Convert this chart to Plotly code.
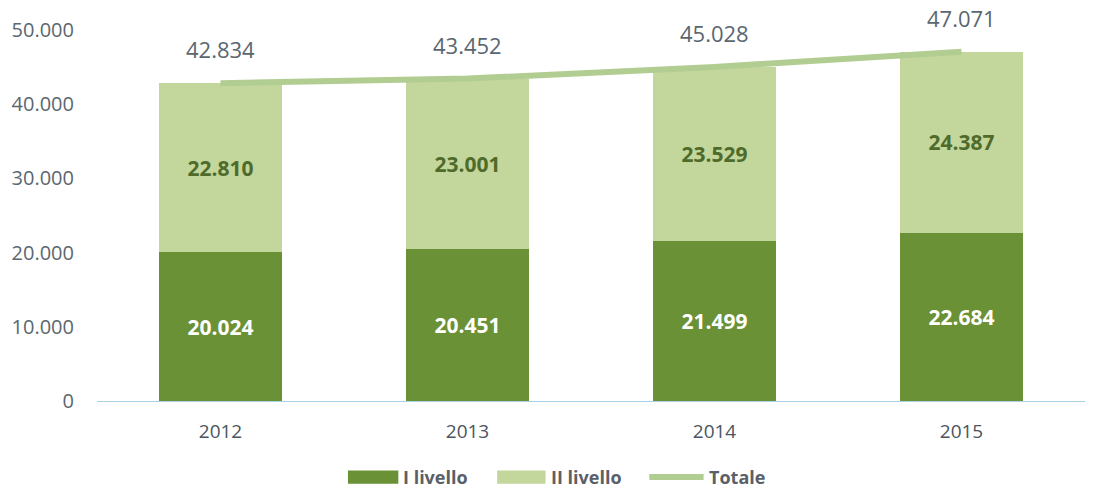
import plotly.graph_objects as go

years = ["2012", "2013", "2014", "2015"]
livello1 = [20024, 20451, 21499, 22684]
livello2 = [22810, 23001, 23529, 24387]
totale = [42834, 43452, 45028, 47071]
series_names = ["I livello", "II livello", "Totale"]

FONT = "Open Sans"
C_DARK = "#6a9135"
C_LIGHT = "#c3d69b"
C_LINE = "#b2cd92"
C_TEXT = "#5b6770"

fig = go.Figure()
fig.add_trace(go.Bar(
    x=years, y=livello1, name=series_names[0],
    marker=dict(color=C_DARK, line=dict(width=0)),
    texttemplate="<b>%{y:,d}</b>", textposition="inside", insidetextanchor="middle",
    textfont=dict(family=FONT, size=21, color="#ffffff"),
))
fig.add_trace(go.Bar(
    x=years, y=livello2, name=series_names[1],
    marker=dict(color=C_LIGHT, line=dict(width=0)),
    texttemplate="<b>%{y:,d}</b>", textposition="inside", insidetextanchor="middle",
    textfont=dict(family=FONT, size=21, color="#4f6b2b"),
))
fig.add_trace(go.Scatter(
    x=years, y=totale, name=series_names[2], mode="lines",
    line=dict(color=C_LINE, width=6),
))

for i, t in enumerate(totale):
    fig.add_annotation(
        x=i, y=t, text=f"{t:,}".replace(",", "."), showarrow=False,
        yshift=34, font=dict(family=FONT, size=22, color=C_TEXT),
    )

# custom legend (swatches + labels) below the plot
leg_y = -0.205
legend_items = [
    (series_names[0], "rect", C_DARK, 0.254, 0.305),
    (series_names[1], "rect", C_LIGHT, 0.405, 0.454),
    (series_names[2], "line", C_LINE, 0.559, 0.614),
]
for name, kind, col, x0, x1 in legend_items:
    if kind == "rect":
        fig.add_shape(type="rect", xref="paper", yref="paper",
                      x0=x0, x1=x1, y0=leg_y - 0.018, y1=leg_y + 0.018,
                      fillcolor=col, line=dict(width=0))
    else:
        fig.add_shape(type="line", xref="paper", yref="paper",
                      x0=x0, x1=x1, y0=leg_y, y1=leg_y,
                      line=dict(color=col, width=6))
    fig.add_annotation(xref="paper", yref="paper", x=x1 + 0.003, y=leg_y,
                       xanchor="left", yanchor="middle", showarrow=False,
                       text=f"<b>{name}</b>",
                       font=dict(family=FONT, size=18, color="#5a6068"))

fig.update_layout(
    width=1106, height=488,
    margin=dict(l=97, r=21, t=30, b=87),
    barmode="stack", bargap=0.5,
    paper_bgcolor="#ffffff", plot_bgcolor="#ffffff",
    separators=",.",
    font=dict(family=FONT, color=C_TEXT),
    showlegend=False,
    xaxis=dict(
        type="category", range=[-0.5, 3.5], automargin=False,
        showgrid=False, showline=True, linecolor="#a9d2e6", linewidth=1,
        tickfont=dict(family=FONT, size=19, color="#4a5560"), ticks="",
        ticklabelstandoff=13,
    ),
    yaxis=dict(
        range=[0, 50000], dtick=10000, tickformat=",d", showgrid=False,
        zeroline=False, showline=False, automargin=False,
        tickfont=dict(family=FONT, size=20, color=C_TEXT), ticklabelstandoff=22,
    ),
)

fig.write_html("out.html", config={"displayModeBar": False},
               post_script="document.body.style.margin='0';")
